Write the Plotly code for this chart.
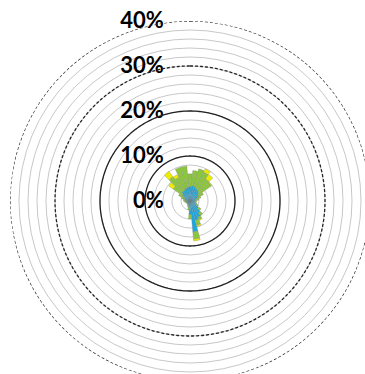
import plotly.graph_objects as go

# Wind direction sectors (degrees, clockwise from north)
directions = list(range(0, 360, 10))

# Frequency (%) per sector for each speed class
low_speed = [3.2, 3.4, 3.3, 3.0, 2.8, 2.4, 2.0, 1.6, 1.3, 1.1, 1.0, 1.2,
             1.6, 2.3, 3.2, 4.0, 4.4, 6.9, 3.0, 1.5, 1.0, 0.8, 0.7, 0.6,
             0.6, 0.6, 0.7, 0.8, 0.9, 1.2, 1.5, 2.0, 2.6, 2.6, 2.9, 3.1]
mid_speed = [2.8, 3.4, 4.1, 4.1, 3.2, 3.4, 1.3, 0.9, 0.7, 0.4, 0.4, 0.4,
             0.5, 0.7, 0.8, 0.6, 1.2, 1.6, 1.0, 0.5, 0.4, 0.3, 0.3, 0.3,
             0.3, 0.4, 0.5, 0.6, 0.6, 0.8, 1.3, 2.6, 4.0, 3.2, 4.9, 4.7]
high_speed = [0.0, 0.0, 0.0, 0.8, 1.2, 0.2, 0.0, 0.0, 0.0, 0.0, 0.0, 0.0,
              0.0, 0.0, 0.0, 0.2, 0.3, 0.4, 0.0, 0.0, 0.0, 0.0, 0.0, 0.0,
              0.0, 0.0, 0.0, 0.0, 0.0, 0.0, 0.0, 1.2, 1.5, 0.7, 0.0, 0.0]

# Radial rings
grid_vals = list(range(0, 42, 2))
label_vals = [0, 10, 20, 30, 40]
solid_rings = [10, 20]
dashed_rings = [30, 40]

W, H = 380, 390
cx, cy, R = 190, 201, 180

fig = go.Figure()

circle_theta = list(range(0, 361, 1))
for r in solid_rings:
    fig.add_trace(go.Scatterpolar(
        r=[r] * len(circle_theta), theta=circle_theta, mode="lines",
        line=dict(color="#222222", width=1.3), cliponaxis=False,
        hoverinfo="skip", showlegend=False))
for r in dashed_rings:
    fig.add_trace(go.Scatterpolar(
        r=[r] * len(circle_theta), theta=circle_theta, mode="lines",
        line=dict(color="#262626", width=1.3, dash="3px,2px"), cliponaxis=False,
        hoverinfo="skip", showlegend=False))

for vals, color in [(low_speed, "#1ba8e0"), (mid_speed, "#8cc63f"),
                    (high_speed, "#ecec00")]:
    fig.add_trace(go.Barpolar(
        r=vals, theta=directions, width=[9.6] * len(directions),
        marker=dict(color=color, line=dict(color="#7a7a7a", width=0.3)),
        showlegend=False))

fig.update_layout(
    width=W, height=H,
    margin=dict(l=0, r=0, t=0, b=0),
    paper_bgcolor="white",
    showlegend=False,
    polar=dict(
        domain=dict(x=[(cx - R) / W, (cx + R) / W],
                    y=[(H - cy - R) / H, (H - cy + R) / H]),
        bgcolor="white",
        barmode="stack",
        radialaxis=dict(
            range=[0, 40],
            angle=90,
            side="counterclockwise",
            tickvals=grid_vals,
            ticktext=[f"{v}%" if v in label_vals else "" for v in grid_vals],
            ticks="outside", ticklen=18, tickcolor="rgba(0,0,0,0)",
            tickangle=90,
            tickfont=dict(family="Lato", size=22, color="black", weight="bold"),
            showline=False,
            gridcolor="#c8c8c8", gridwidth=1.4,
            layer="below traces",
        ),
        angularaxis=dict(
            rotation=90, direction="clockwise",
            showgrid=False, showline=False, showticklabels=False, ticks="",
        ),
    ),
)

fig.write_html(
    "out.html",
    post_script="document.body.style.margin='0';document.body.style.overflow='hidden';",
)
